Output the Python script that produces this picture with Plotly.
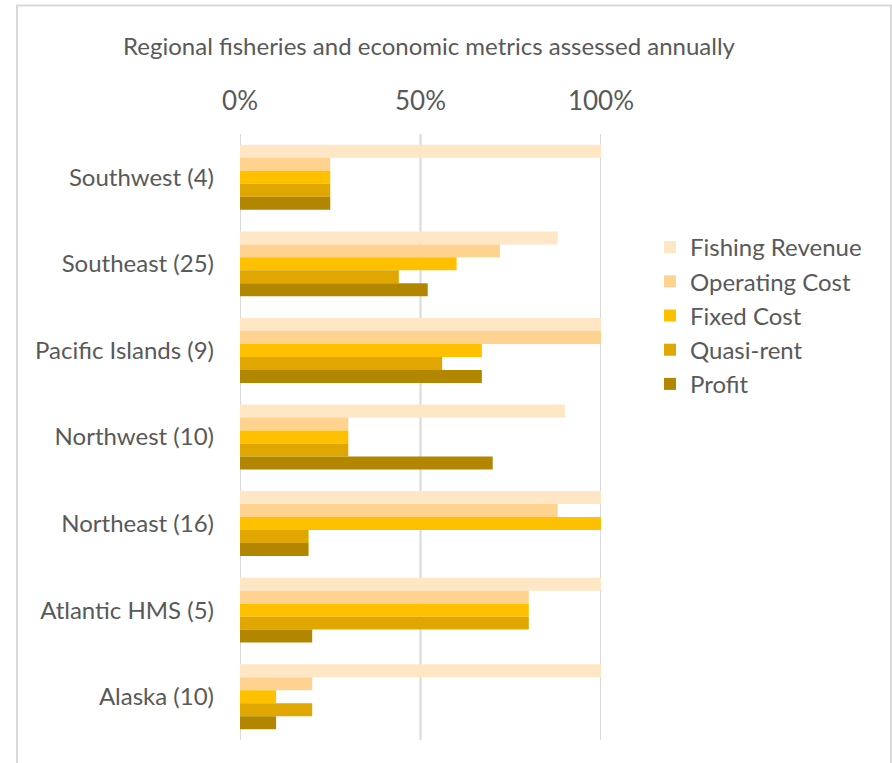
import plotly.graph_objects as go

categories = ["Southwest (4)", "Southeast (25)", "Pacific Islands (9)", "Northwest (10)",
              "Northeast (16)", "Atlantic HMS (5)", "Alaska (10)"]
fishing_revenue = [100, 88, 100, 90, 100, 100, 100]
operating_cost = [25, 72, 100, 30, 88, 80, 20]
fixed_cost = [25, 60, 67, 30, 100, 80, 10]
quasi_rent = [25, 44, 56, 30, 19, 80, 20]
profit = [25, 52, 67, 70, 19, 20, 10]
tick_values = [0, 0.5, 1]
tick_labels = ["0%", "50%", "100%"]

series = [
    ("Fishing Revenue", fishing_revenue, "#FFE6C5"),
    ("Operating Cost", operating_cost, "#FFD28F"),
    ("Fixed Cost", fixed_cost, "#FFC000"),
    ("Quasi-rent", quasi_rent, "#DFA700"),
    ("Profit", profit, "#B38600"),
]

FONT = "Lato"
GRAY = "#595959"
GRID = "#D9D9D9"

fig = go.Figure()
for name, vals, color in series:
    fig.add_trace(go.Bar(
        name=name, y=categories, x=[v / 100 for v in vals], orientation="h",
        marker=dict(color=color, line=dict(width=0)),
    ))

L, R, T, B = 240, 291, 134, 23
W, H = 892, 763
pw, ph = W - L - R, H - T - B

fig.update_layout(
    width=W, height=H,
    margin=dict(l=L, r=R, t=T, b=B, autoexpand=False),
    barmode="group", bargap=0.25, bargroupgap=0,
    plot_bgcolor="white", paper_bgcolor="white",
    font=dict(family=FONT, color=GRAY, size=20),
    title=dict(text="Regional fisheries and economic metrics assessed annually",
               x=(117 + 741) / 2 / W, xanchor="center", y=1 - 47 / H, yanchor="middle",
               font=dict(size=24, color=GRAY, family=FONT)),
    xaxis=dict(side="top", range=[0, 1], tickvals=tick_values, ticktext=tick_labels,
               showgrid=False, zeroline=False,
               showline=False, ticks="", ticklabelstandoff=18,
               tickfont=dict(size=26, color=GRAY), fixedrange=True),
    yaxis=dict(autorange="reversed", showgrid=False, zeroline=False, ticks="",
               showline=False, ticklabelstandoff=25,
               tickfont=dict(size=24, color=GRAY)),
    legend=dict(x=(650 - L) / pw, xanchor="left", y=(H - B - 225) / ph, yanchor="top",
                font=dict(size=24, color=GRAY), tracegroupgap=0, itemwidth=30,
                bgcolor="rgba(0,0,0,0)"),
    showlegend=True,
)

# gridlines
for tv in tick_values:
    fig.add_shape(type="line", xref="x", yref="paper", x0=tv, x1=tv, y0=0, y1=1,
                  line=dict(color=GRID, width=2), layer="below")

# chart border
fig.add_shape(type="rect", xref="paper", yref="paper",
              x0=(17 - L) / pw, x1=(891 - L) / pw,
              y0=(H - B - 775) / ph, y1=(H - B - 5.5) / ph,
              line=dict(color=GRID, width=2), fillcolor="rgba(0,0,0,0)", layer="below")

fig.write_html("out.html", config={"displayModeBar": False},
               post_script="document.body.style.margin='0';")
